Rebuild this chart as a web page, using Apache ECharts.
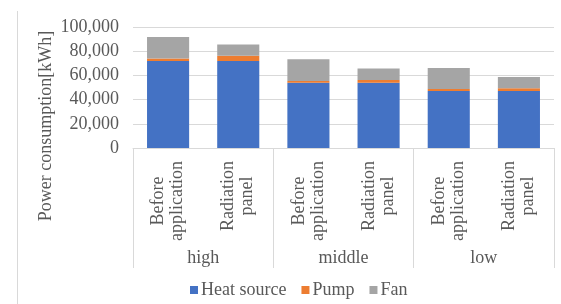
<!DOCTYPE html>
<html>
<head>
<meta charset="utf-8">
<script src="https://cdn.jsdelivr.net/npm/echarts@6/dist/echarts.min.js"></script>
<style>
html,body{margin:0;padding:0;background:#fff;}
#main{width:561px;height:304px;}
</style>
</head>
<body>
<div id="main"></div>
<script>
// data
var cases = ['Before\napplication', 'Radiation\npanel', 'Before\napplication', 'Radiation\npanel', 'Before\napplication', 'Radiation\npanel'];
var levels = ['high', 'middle', 'low'];
var heatSource = [72000, 72000, 54000, 54000, 47100, 47100];
var pump = [1900, 4200, 1400, 2200, 1600, 2200];
var fan = [17800, 9300, 18000, 9400, 17500, 9400];
var yTicks = [0, 20000, 40000, 60000, 80000, 100000];

var font = 'Liberation Serif';
var txtColor = '#595959';
var lineColor = '#d9d9d9';

// measure label lines so each block can be centred line by line
var cv = document.createElement('canvas').getContext('2d');
cv.font = '18px "' + font + '"';
function blockWidth(s){
  var w = 0;
  s.split('\n').forEach(function(t){ w = Math.max(w, cv.measureText(t).width); });
  return Math.ceil(w);
}
var rich = {};
cases.forEach(function(c, i){
  rich['k' + i] = { width: blockWidth(c), align: 'center', fontFamily: font, fontSize: 18, color: txtColor, lineHeight: 19 };
});

var myChart = echarts.init(document.getElementById('main'));
var option = {
  backgroundColor: '#fff',
  animation: false,
  textStyle: { fontFamily: font },
  grid: { left: 133, right: 7, top: 27, bottom: 156 },
  legend: {
    bottom: 0,
    left: 185,
    itemWidth: 8,
    itemHeight: 8,
    itemGap: 15,
    icon: 'rect',
    textStyle: { fontFamily: font, fontSize: 18, color: txtColor, padding: [0, 0, 0, -2] },
    data: ['Heat source', 'Pump', 'Fan']
  },
  graphic: [
    { type: 'line', shape: { x1: 17.5, y1: 11, x2: 17.5, y2: 304 }, style: { stroke: lineColor, lineWidth: 1 } },
    { type: 'text', x: 46, y: 126, rotation: Math.PI / 2,
      style: { text: 'Power consumption[kWh]', font: '18px "' + font + '"', fill: txtColor, align: 'center', verticalAlign: 'middle' } }
  ],
  xAxis: [{
    type: 'category',
    data: cases,
    axisLine: { lineStyle: { color: lineColor } },
    axisTick: { show: false },
    axisLabel: {
      interval: 0,
      rotate: 90,
      margin: 13,
      color: txtColor,
      fontFamily: font,
      fontSize: 18,
      lineHeight: 19,
      rich: rich,
      formatter: function(v, i){
        return v.split('\n').map(function(t){ return '{k' + i + '|' + t + '}'; }).join('\n');
      }
    }
  }, {
    type: 'category',
    data: levels,
    position: 'bottom',
    axisLine: { show: false },
    axisTick: { show: true, length: 120, lineStyle: { color: lineColor } },
    axisLabel: { margin: 101, color: txtColor, fontFamily: font, fontSize: 18 },
    splitLine: { show: false }
  }],
  yAxis: {
    type: 'value',
    min: yTicks[0],
    max: yTicks[yTicks.length - 1],
    interval: yTicks[1] - yTicks[0],
    axisLine: { show: false },
    axisTick: { show: false },
    splitLine: { lineStyle: { color: lineColor } },
    axisLabel: {
      margin: 14,
      color: txtColor,
      fontFamily: font,
      fontSize: 18,
      formatter: function(v){ return v.toLocaleString('en-US'); }
    }
  },
  series: [
    { name: 'Heat source', type: 'bar', stack: 'total', barCategoryGap: '40%', itemStyle: { color: '#4472C4' }, data: heatSource },
    { name: 'Pump', type: 'bar', stack: 'total', itemStyle: { color: '#ED7D31' }, data: pump },
    { name: 'Fan', type: 'bar', stack: 'total', itemStyle: { color: '#A5A5A5' }, data: fan }
  ]
};
myChart.setOption(option);
</script>
</body>
</html>
